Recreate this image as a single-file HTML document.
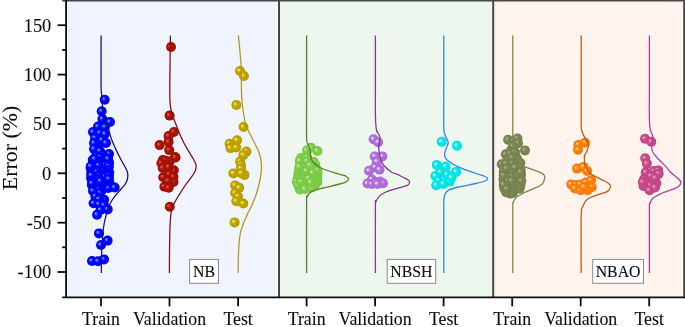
<!DOCTYPE html>
<html lang="en"><head><meta charset="utf-8"><title>Error (%) distribution: NB, NBSH, NBAO</title>
<style>html,body{margin:0;padding:0;background:#fff}svg{display:block}</style></head>
<body>
<svg width="685" height="327" viewBox="0 0 685 327">
<defs>
<radialGradient id="bg1" cx="0.5" cy="0.5" r="0.5" fx="0.33" fy="0.36"><stop offset="0" stop-color="#4c98ff"/><stop offset="0.12" stop-color="#4c98ff"/><stop offset="0.42" stop-color="#0606ff"/><stop offset="1" stop-color="#0000f2"/></radialGradient>
<radialGradient id="bg2" cx="0.5" cy="0.5" r="0.5" fx="0.33" fy="0.36"><stop offset="0" stop-color="#f0463a"/><stop offset="0.12" stop-color="#f0463a"/><stop offset="0.42" stop-color="#aa1407"/><stop offset="1" stop-color="#9a1105"/></radialGradient>
<radialGradient id="bg3" cx="0.5" cy="0.5" r="0.5" fx="0.33" fy="0.36"><stop offset="0" stop-color="#f0e258"/><stop offset="0.12" stop-color="#f0e258"/><stop offset="0.42" stop-color="#c2a800"/><stop offset="1" stop-color="#b49a00"/></radialGradient>
<radialGradient id="bg4" cx="0.5" cy="0.5" r="0.5" fx="0.33" fy="0.36"><stop offset="0" stop-color="#bce8a4"/><stop offset="0.12" stop-color="#bce8a4"/><stop offset="0.42" stop-color="#7ecd48"/><stop offset="1" stop-color="#78c844"/></radialGradient>
<radialGradient id="bg5" cx="0.5" cy="0.5" r="0.5" fx="0.33" fy="0.36"><stop offset="0" stop-color="#ecd0fa"/><stop offset="0.12" stop-color="#ecd0fa"/><stop offset="0.42" stop-color="#b272de"/><stop offset="1" stop-color="#aa68d6"/></radialGradient>
<radialGradient id="bg6" cx="0.5" cy="0.5" r="0.5" fx="0.33" fy="0.36"><stop offset="0" stop-color="#b0fafa"/><stop offset="0.12" stop-color="#b0fafa"/><stop offset="0.42" stop-color="#04e8ea"/><stop offset="1" stop-color="#00dde0"/></radialGradient>
<radialGradient id="bg7" cx="0.5" cy="0.5" r="0.5" fx="0.33" fy="0.36"><stop offset="0" stop-color="#a2aa82"/><stop offset="0.12" stop-color="#a2aa82"/><stop offset="0.42" stop-color="#7b8753"/><stop offset="1" stop-color="#75814d"/></radialGradient>
<radialGradient id="bg8" cx="0.5" cy="0.5" r="0.5" fx="0.33" fy="0.36"><stop offset="0" stop-color="#ffc688"/><stop offset="0.12" stop-color="#ffc688"/><stop offset="0.42" stop-color="#ff820a"/><stop offset="1" stop-color="#f87800"/></radialGradient>
<radialGradient id="bg9" cx="0.5" cy="0.5" r="0.5" fx="0.33" fy="0.36"><stop offset="0" stop-color="#e694bc"/><stop offset="0.12" stop-color="#e694bc"/><stop offset="0.42" stop-color="#c84e8a"/><stop offset="1" stop-color="#be4680"/></radialGradient>
</defs>
<rect width="685" height="327" fill="#fff"/>
<rect x="66.1" y="1" width="210.2" height="295.6" fill="#f0f4fe"/>
<rect x="279" y="1" width="212.8" height="295.6" fill="#edf7ed"/>
<rect x="493.2" y="1" width="188.9" height="295.6" fill="#fef4ed"/>
<g>
<circle cx="104.7" cy="99.8" r="5.0" fill="url(#bg1)"/>
<circle cx="101.7" cy="111.2" r="5.0" fill="url(#bg1)"/>
<circle cx="100.1" cy="143.5" r="5.0" fill="url(#bg1)"/>
<circle cx="102.4" cy="119.0" r="5.0" fill="url(#bg1)"/>
<circle cx="110.0" cy="122.0" r="5.0" fill="url(#bg1)"/>
<circle cx="98.0" cy="126.6" r="5.0" fill="url(#bg1)"/>
<circle cx="105.0" cy="127.0" r="5.0" fill="url(#bg1)"/>
<circle cx="93.0" cy="132.0" r="5.0" fill="url(#bg1)"/>
<circle cx="100.0" cy="133.0" r="5.0" fill="url(#bg1)"/>
<circle cx="105.0" cy="134.0" r="5.0" fill="url(#bg1)"/>
<circle cx="95.0" cy="138.0" r="5.0" fill="url(#bg1)"/>
<circle cx="102.0" cy="140.0" r="5.0" fill="url(#bg1)"/>
<circle cx="106.0" cy="143.0" r="5.0" fill="url(#bg1)"/>
<circle cx="94.0" cy="143.0" r="5.0" fill="url(#bg1)"/>
<circle cx="94.0" cy="149.0" r="5.0" fill="url(#bg1)"/>
<circle cx="100.0" cy="151.0" r="5.0" fill="url(#bg1)"/>
<circle cx="109.0" cy="154.0" r="5.0" fill="url(#bg1)"/>
<circle cx="103.0" cy="155.0" r="5.0" fill="url(#bg1)"/>
<circle cx="96.0" cy="156.0" r="5.0" fill="url(#bg1)"/>
<circle cx="103.7" cy="157.8" r="5.0" fill="url(#bg1)"/>
<circle cx="103.3" cy="171.5" r="5.0" fill="url(#bg1)"/>
<circle cx="96.6" cy="176.0" r="5.0" fill="url(#bg1)"/>
<circle cx="99.1" cy="167.7" r="5.0" fill="url(#bg1)"/>
<circle cx="97.5" cy="187.4" r="5.0" fill="url(#bg1)"/>
<circle cx="96.8" cy="163.6" r="5.0" fill="url(#bg1)"/>
<circle cx="104.5" cy="160.0" r="5.0" fill="url(#bg1)"/>
<circle cx="103.9" cy="186.1" r="5.0" fill="url(#bg1)"/>
<circle cx="101.6" cy="173.1" r="5.0" fill="url(#bg1)"/>
<circle cx="91.3" cy="172.2" r="5.0" fill="url(#bg1)"/>
<circle cx="92.7" cy="160.1" r="5.0" fill="url(#bg1)"/>
<circle cx="102.3" cy="189.6" r="5.0" fill="url(#bg1)"/>
<circle cx="96.3" cy="182.2" r="5.0" fill="url(#bg1)"/>
<circle cx="100.2" cy="157.3" r="5.0" fill="url(#bg1)"/>
<circle cx="91.1" cy="178.2" r="5.0" fill="url(#bg1)"/>
<circle cx="103.6" cy="168.4" r="5.0" fill="url(#bg1)"/>
<circle cx="99.4" cy="161.3" r="5.0" fill="url(#bg1)"/>
<circle cx="109.0" cy="162.2" r="5.0" fill="url(#bg1)"/>
<circle cx="91.9" cy="185.0" r="5.0" fill="url(#bg1)"/>
<circle cx="109.2" cy="172.6" r="5.0" fill="url(#bg1)"/>
<circle cx="95.3" cy="168.5" r="5.0" fill="url(#bg1)"/>
<circle cx="98.5" cy="165.1" r="5.0" fill="url(#bg1)"/>
<circle cx="109.4" cy="182.8" r="5.0" fill="url(#bg1)"/>
<circle cx="96.0" cy="171.1" r="5.0" fill="url(#bg1)"/>
<circle cx="99.4" cy="175.8" r="5.0" fill="url(#bg1)"/>
<circle cx="108.8" cy="167.1" r="5.0" fill="url(#bg1)"/>
<circle cx="94.7" cy="159.0" r="5.0" fill="url(#bg1)"/>
<circle cx="96.8" cy="178.7" r="5.0" fill="url(#bg1)"/>
<circle cx="108.8" cy="185.2" r="5.0" fill="url(#bg1)"/>
<circle cx="105.9" cy="164.6" r="5.0" fill="url(#bg1)"/>
<circle cx="98.2" cy="189.4" r="5.0" fill="url(#bg1)"/>
<circle cx="105.3" cy="179.5" r="5.0" fill="url(#bg1)"/>
<circle cx="105.7" cy="176.5" r="5.0" fill="url(#bg1)"/>
<circle cx="108.4" cy="188.0" r="5.0" fill="url(#bg1)"/>
<circle cx="108.8" cy="164.8" r="5.0" fill="url(#bg1)"/>
<circle cx="93.0" cy="190.9" r="5.0" fill="url(#bg1)"/>
<circle cx="103.3" cy="183.1" r="5.0" fill="url(#bg1)"/>
<circle cx="91.3" cy="175.3" r="5.0" fill="url(#bg1)"/>
<circle cx="99.2" cy="179.1" r="5.0" fill="url(#bg1)"/>
<circle cx="108.1" cy="158.9" r="5.0" fill="url(#bg1)"/>
<circle cx="109.0" cy="175.8" r="5.0" fill="url(#bg1)"/>
<circle cx="90.6" cy="167.7" r="5.0" fill="url(#bg1)"/>
<circle cx="100.5" cy="181.1" r="5.0" fill="url(#bg1)"/>
<circle cx="92.0" cy="183.3" r="5.0" fill="url(#bg1)"/>
<circle cx="90.8" cy="166.3" r="5.0" fill="url(#bg1)"/>
<circle cx="108.9" cy="178.8" r="5.0" fill="url(#bg1)"/>
<circle cx="114.7" cy="187.5" r="5.0" fill="url(#bg1)"/>
<circle cx="100.0" cy="193.0" r="5.0" fill="url(#bg1)"/>
<circle cx="95.4" cy="196.3" r="5.0" fill="url(#bg1)"/>
<circle cx="104.2" cy="199.8" r="5.0" fill="url(#bg1)"/>
<circle cx="99.0" cy="199.0" r="5.0" fill="url(#bg1)"/>
<circle cx="93.6" cy="203.3" r="5.0" fill="url(#bg1)"/>
<circle cx="98.9" cy="204.2" r="5.0" fill="url(#bg1)"/>
<circle cx="104.0" cy="205.5" r="5.0" fill="url(#bg1)"/>
<circle cx="107.7" cy="209.4" r="5.0" fill="url(#bg1)"/>
<circle cx="100.5" cy="210.0" r="5.0" fill="url(#bg1)"/>
<circle cx="97.1" cy="214.7" r="5.0" fill="url(#bg1)"/>
<circle cx="99.0" cy="233.4" r="5.0" fill="url(#bg1)"/>
<circle cx="107.6" cy="240.6" r="5.0" fill="url(#bg1)"/>
<circle cx="101.0" cy="245.0" r="5.0" fill="url(#bg1)"/>
<circle cx="92.0" cy="261.0" r="5.0" fill="url(#bg1)"/>
<circle cx="98.0" cy="261.2" r="5.0" fill="url(#bg1)"/>
<circle cx="104.0" cy="259.4" r="5.0" fill="url(#bg1)"/>
<path d="M101.1 35.4C101.1 42.5 101.1 68.9 101.1 78.0C101.1 87.1 101.0 86.4 101.2 90.0C101.4 93.6 101.8 95.7 102.1 99.4C102.4 103.1 102.3 108.4 103.0 112.0C103.7 115.6 105.0 117.6 106.0 120.8C107.0 124.0 108.1 128.1 109.1 131.3C110.1 134.5 110.5 136.7 111.8 140.0C113.1 143.3 115.2 148.0 116.8 151.4C118.4 154.8 120.0 157.7 121.5 160.5C123.0 163.3 124.6 166.1 125.6 168.0C126.6 169.9 127.0 170.8 127.4 172.0C127.8 173.2 127.8 173.9 127.8 175.3C127.8 176.7 127.6 178.8 127.1 180.3C126.6 181.8 125.9 183.2 125.0 184.5C124.1 185.8 123.3 186.4 121.8 188.2C120.2 190.0 117.6 192.7 115.7 195.2C113.8 197.7 111.8 200.5 110.4 203.0C109.0 205.5 108.3 207.8 107.5 210.0C106.7 212.2 106.4 214.1 105.8 216.5C105.2 218.9 104.5 221.6 104.0 224.5C103.5 227.4 103.1 230.6 102.8 234.0C102.5 237.4 102.2 241.2 102.0 245.0C101.8 248.8 101.6 252.3 101.5 257.0C101.4 261.7 101.4 270.3 101.4 273.0" fill="none" stroke="#241270" stroke-width="1.3" stroke-linejoin="round"/>
</g>
<g>
<circle cx="171.0" cy="47.0" r="5.0" fill="url(#bg2)"/>
<circle cx="169.6" cy="115.6" r="5.0" fill="url(#bg2)"/>
<circle cx="173.9" cy="132.0" r="5.0" fill="url(#bg2)"/>
<circle cx="168.6" cy="136.1" r="5.0" fill="url(#bg2)"/>
<circle cx="168.6" cy="141.9" r="5.0" fill="url(#bg2)"/>
<circle cx="159.6" cy="145.1" r="5.0" fill="url(#bg2)"/>
<circle cx="169.2" cy="150.1" r="5.0" fill="url(#bg2)"/>
<circle cx="175.0" cy="157.1" r="5.0" fill="url(#bg2)"/>
<circle cx="162.8" cy="160.0" r="5.0" fill="url(#bg2)"/>
<circle cx="169.8" cy="161.2" r="5.0" fill="url(#bg2)"/>
<circle cx="165.0" cy="160.4" r="5.0" fill="url(#bg2)"/>
<circle cx="175.5" cy="157.5" r="5.0" fill="url(#bg2)"/>
<circle cx="161.4" cy="163.3" r="5.0" fill="url(#bg2)"/>
<circle cx="162.7" cy="168.0" r="5.0" fill="url(#bg2)"/>
<circle cx="173.8" cy="170.3" r="5.0" fill="url(#bg2)"/>
<circle cx="168.5" cy="167.0" r="5.0" fill="url(#bg2)"/>
<circle cx="169.1" cy="174.4" r="5.0" fill="url(#bg2)"/>
<circle cx="163.2" cy="177.3" r="5.0" fill="url(#bg2)"/>
<circle cx="173.5" cy="177.0" r="5.0" fill="url(#bg2)"/>
<circle cx="173.5" cy="182.0" r="5.0" fill="url(#bg2)"/>
<circle cx="168.0" cy="181.0" r="5.0" fill="url(#bg2)"/>
<circle cx="164.4" cy="186.7" r="5.0" fill="url(#bg2)"/>
<circle cx="168.7" cy="187.8" r="5.0" fill="url(#bg2)"/>
<circle cx="169.8" cy="206.8" r="5.0" fill="url(#bg2)"/>
<path d="M170.4 35.4C170.3 39.5 170.2 50.1 170.1 60.0C170.0 69.9 169.7 86.7 169.8 95.0C170.0 103.3 169.9 105.0 171.0 110.0C172.1 115.0 174.5 120.5 176.2 125.0C177.8 129.4 179.4 133.4 180.9 136.7C182.4 140.0 183.6 142.5 185.0 145.0C186.4 147.5 187.8 149.7 189.1 151.9C190.4 154.2 191.9 156.6 193.0 158.5C194.1 160.4 195.1 162.1 195.6 163.5C196.1 164.9 196.2 165.7 196.1 167.0C196.0 168.3 195.8 169.8 195.0 171.5C194.2 173.2 193.2 174.7 191.4 177.2C189.6 179.7 186.2 183.9 184.4 186.5C182.6 189.1 181.7 190.8 180.3 193.0C178.9 195.2 177.3 197.7 176.0 200.0C174.7 202.3 173.4 204.1 172.5 206.8C171.6 209.5 171.1 212.6 170.7 216.0C170.3 219.4 170.2 222.2 170.0 227.0C169.8 231.8 169.7 237.3 169.6 245.0C169.5 252.7 169.4 268.3 169.4 273.0" fill="none" stroke="#7c1414" stroke-width="1.3" stroke-linejoin="round"/>
</g>
<g>
<circle cx="240.0" cy="71.0" r="5.0" fill="url(#bg3)"/>
<circle cx="244.0" cy="76.0" r="5.0" fill="url(#bg3)"/>
<circle cx="236.4" cy="105.0" r="5.0" fill="url(#bg3)"/>
<circle cx="243.5" cy="127.0" r="5.0" fill="url(#bg3)"/>
<circle cx="237.1" cy="140.3" r="5.0" fill="url(#bg3)"/>
<circle cx="229.6" cy="143.8" r="5.0" fill="url(#bg3)"/>
<circle cx="230.4" cy="148.1" r="5.0" fill="url(#bg3)"/>
<circle cx="236.3" cy="147.5" r="5.0" fill="url(#bg3)"/>
<circle cx="246.4" cy="151.6" r="5.0" fill="url(#bg3)"/>
<circle cx="243.3" cy="155.1" r="5.0" fill="url(#bg3)"/>
<circle cx="240.1" cy="161.5" r="5.0" fill="url(#bg3)"/>
<circle cx="241.0" cy="165.0" r="5.0" fill="url(#bg3)"/>
<circle cx="241.0" cy="168.5" r="5.0" fill="url(#bg3)"/>
<circle cx="233.4" cy="173.4" r="5.0" fill="url(#bg3)"/>
<circle cx="244.5" cy="174.9" r="5.0" fill="url(#bg3)"/>
<circle cx="241.3" cy="173.2" r="5.0" fill="url(#bg3)"/>
<circle cx="235.1" cy="185.4" r="5.0" fill="url(#bg3)"/>
<circle cx="239.2" cy="187.8" r="5.0" fill="url(#bg3)"/>
<circle cx="235.1" cy="193.0" r="5.0" fill="url(#bg3)"/>
<circle cx="238.0" cy="196.5" r="5.0" fill="url(#bg3)"/>
<circle cx="236.3" cy="201.2" r="5.0" fill="url(#bg3)"/>
<circle cx="243.3" cy="203.5" r="5.0" fill="url(#bg3)"/>
<circle cx="234.6" cy="222.4" r="5.0" fill="url(#bg3)"/>
<path d="M238.4 35.4C238.6 37.8 239.4 45.1 239.8 50.0C240.2 54.9 240.8 60.0 241.1 65.0C241.4 70.0 241.3 75.0 241.4 80.0C241.5 85.0 241.3 90.0 241.6 95.0C241.9 100.0 242.3 105.0 243.0 110.0C243.7 115.0 244.5 120.3 246.0 125.0C247.5 129.7 250.0 133.8 252.0 138.0C254.0 142.2 256.6 146.7 258.0 150.0C259.4 153.3 259.9 155.0 260.5 158.0C261.1 161.0 261.5 164.3 261.4 168.0C261.3 171.7 260.9 175.5 260.0 180.0C259.1 184.5 257.5 190.5 256.0 195.0C254.5 199.5 252.5 203.7 251.0 207.0C249.5 210.3 248.4 211.8 247.0 215.0C245.6 218.2 243.7 222.7 242.5 226.0C241.3 229.3 240.7 230.2 240.0 235.0C239.3 239.8 238.7 248.7 238.4 255.0C238.1 261.3 238.2 270.0 238.1 273.0" fill="none" stroke="#b49a14" stroke-width="1.3" stroke-linejoin="round"/>
</g>
<g>
<circle cx="307.1" cy="150.4" r="5.0" fill="url(#bg4)"/>
<circle cx="311.0" cy="147.7" r="5.0" fill="url(#bg4)"/>
<circle cx="317.4" cy="151.0" r="5.0" fill="url(#bg4)"/>
<circle cx="301.0" cy="158.0" r="5.0" fill="url(#bg4)"/>
<circle cx="307.1" cy="157.5" r="5.0" fill="url(#bg4)"/>
<circle cx="297.8" cy="179.1" r="5.0" fill="url(#bg4)"/>
<circle cx="309.1" cy="184.6" r="5.0" fill="url(#bg4)"/>
<circle cx="296.8" cy="181.8" r="5.0" fill="url(#bg4)"/>
<circle cx="317.5" cy="172.8" r="5.0" fill="url(#bg4)"/>
<circle cx="317.3" cy="182.1" r="5.0" fill="url(#bg4)"/>
<circle cx="299.9" cy="189.5" r="5.0" fill="url(#bg4)"/>
<circle cx="298.0" cy="185.0" r="5.0" fill="url(#bg4)"/>
<circle cx="304.1" cy="172.8" r="5.0" fill="url(#bg4)"/>
<circle cx="305.3" cy="184.6" r="5.0" fill="url(#bg4)"/>
<circle cx="315.2" cy="164.8" r="5.0" fill="url(#bg4)"/>
<circle cx="302.7" cy="177.4" r="5.0" fill="url(#bg4)"/>
<circle cx="308.1" cy="174.5" r="5.0" fill="url(#bg4)"/>
<circle cx="305.3" cy="165.2" r="5.0" fill="url(#bg4)"/>
<circle cx="308.1" cy="180.6" r="5.0" fill="url(#bg4)"/>
<circle cx="317.5" cy="177.7" r="5.0" fill="url(#bg4)"/>
<circle cx="315.1" cy="184.8" r="5.0" fill="url(#bg4)"/>
<circle cx="300.8" cy="181.4" r="5.0" fill="url(#bg4)"/>
<circle cx="313.7" cy="161.7" r="5.0" fill="url(#bg4)"/>
<circle cx="298.2" cy="175.1" r="5.0" fill="url(#bg4)"/>
<circle cx="306.7" cy="161.0" r="5.0" fill="url(#bg4)"/>
<circle cx="299.8" cy="160.8" r="5.0" fill="url(#bg4)"/>
<circle cx="304.9" cy="189.0" r="5.0" fill="url(#bg4)"/>
<circle cx="312.3" cy="169.1" r="5.0" fill="url(#bg4)"/>
<circle cx="310.1" cy="165.3" r="5.0" fill="url(#bg4)"/>
<circle cx="317.3" cy="170.4" r="5.0" fill="url(#bg4)"/>
<circle cx="311.3" cy="187.6" r="5.0" fill="url(#bg4)"/>
<circle cx="298.8" cy="171.3" r="5.0" fill="url(#bg4)"/>
<circle cx="313.7" cy="179.0" r="5.0" fill="url(#bg4)"/>
<circle cx="308.8" cy="178.2" r="5.0" fill="url(#bg4)"/>
<circle cx="310.8" cy="182.4" r="5.0" fill="url(#bg4)"/>
<circle cx="306.2" cy="170.9" r="5.0" fill="url(#bg4)"/>
<circle cx="312.6" cy="173.0" r="5.0" fill="url(#bg4)"/>
<circle cx="299.3" cy="166.9" r="5.0" fill="url(#bg4)"/>
<path d="M306.6 35.4C306.6 46.2 306.6 82.9 306.6 100.0C306.6 117.1 306.4 130.7 306.6 138.0C306.8 145.3 307.4 142.0 308.0 144.0C308.6 146.0 309.5 147.7 310.0 150.0C310.5 152.3 310.3 155.8 311.0 158.0C311.7 160.2 312.8 161.7 314.0 163.0C315.2 164.3 316.5 165.0 318.0 166.0C319.5 167.0 319.3 167.6 323.0 169.0C326.7 170.4 336.2 173.1 340.0 174.3C343.8 175.5 344.6 175.5 346.0 176.3C347.4 177.1 348.6 178.1 348.6 179.0C348.6 179.9 347.4 181.2 346.0 182.0C344.6 182.8 343.8 183.0 340.0 184.0C336.2 185.0 327.3 186.9 323.0 188.0C318.7 189.1 316.2 189.7 314.0 190.5C311.8 191.3 310.6 191.9 309.5 193.0C308.4 194.1 307.7 195.3 307.2 197.0C306.7 198.7 306.7 190.3 306.6 203.0C306.5 215.7 306.6 261.3 306.6 273.0" fill="none" stroke="#5e7e2c" stroke-width="1.3" stroke-linejoin="round"/>
</g>
<g>
<circle cx="373.6" cy="139.2" r="5.0" fill="url(#bg5)"/>
<circle cx="378.2" cy="142.3" r="5.0" fill="url(#bg5)"/>
<circle cx="374.8" cy="156.4" r="5.0" fill="url(#bg5)"/>
<circle cx="382.4" cy="156.4" r="5.0" fill="url(#bg5)"/>
<circle cx="377.0" cy="161.7" r="5.0" fill="url(#bg5)"/>
<circle cx="375.1" cy="167.3" r="5.0" fill="url(#bg5)"/>
<circle cx="379.5" cy="169.6" r="5.0" fill="url(#bg5)"/>
<circle cx="369.0" cy="170.8" r="5.0" fill="url(#bg5)"/>
<circle cx="371.9" cy="179.5" r="5.0" fill="url(#bg5)"/>
<circle cx="367.5" cy="183.5" r="5.0" fill="url(#bg5)"/>
<circle cx="372.0" cy="184.0" r="5.0" fill="url(#bg5)"/>
<circle cx="376.0" cy="182.5" r="5.0" fill="url(#bg5)"/>
<circle cx="380.0" cy="181.5" r="5.0" fill="url(#bg5)"/>
<circle cx="383.0" cy="183.2" r="5.0" fill="url(#bg5)"/>
<circle cx="377.5" cy="184.0" r="5.0" fill="url(#bg5)"/>
<path d="M375.4 35.4C375.4 44.5 375.4 76.2 375.4 90.0C375.4 103.8 375.3 111.3 375.5 118.0C375.7 124.7 375.9 127.2 376.5 130.0C377.1 132.8 378.4 133.2 379.0 134.5C379.6 135.8 379.9 136.6 380.0 138.0C380.1 139.4 379.5 141.4 379.3 143.0C379.1 144.6 378.7 146.0 378.7 147.5C378.7 149.0 379.0 150.4 379.2 152.0C379.4 153.6 379.6 155.5 380.0 157.0C380.4 158.5 380.9 159.6 381.5 161.0C382.1 162.4 381.9 163.3 383.6 165.2C385.3 167.1 389.4 170.7 391.7 172.2C394.0 173.7 395.7 173.5 397.6 174.4C399.6 175.3 401.6 176.6 403.4 177.5C405.2 178.4 407.3 179.2 408.3 180.0C409.3 180.8 409.6 181.2 409.5 182.0C409.4 182.8 409.4 184.1 408.0 185.0C406.6 185.9 404.7 186.1 401.0 187.3C397.3 188.5 389.6 190.4 385.9 192.0C382.2 193.6 380.6 194.9 378.9 196.6C377.2 198.2 376.5 200.2 375.9 201.9C375.3 203.6 375.5 195.2 375.4 207.0C375.3 218.8 375.4 262.0 375.4 273.0" fill="none" stroke="#853a8c" stroke-width="1.3" stroke-linejoin="round"/>
</g>
<g>
<circle cx="441.8" cy="141.8" r="5.0" fill="url(#bg6)"/>
<circle cx="457.0" cy="145.8" r="5.0" fill="url(#bg6)"/>
<circle cx="436.8" cy="164.9" r="5.0" fill="url(#bg6)"/>
<circle cx="445.6" cy="166.6" r="5.0" fill="url(#bg6)"/>
<circle cx="456.1" cy="171.9" r="5.0" fill="url(#bg6)"/>
<circle cx="440.3" cy="172.2" r="5.0" fill="url(#bg6)"/>
<circle cx="447.1" cy="174.6" r="5.0" fill="url(#bg6)"/>
<circle cx="435.4" cy="176.0" r="5.0" fill="url(#bg6)"/>
<circle cx="438.6" cy="180.6" r="5.0" fill="url(#bg6)"/>
<circle cx="449.7" cy="181.6" r="5.0" fill="url(#bg6)"/>
<circle cx="436.2" cy="185.3" r="5.0" fill="url(#bg6)"/>
<circle cx="443.4" cy="184.0" r="5.0" fill="url(#bg6)"/>
<circle cx="451.5" cy="177.5" r="5.0" fill="url(#bg6)"/>
<path d="M443.8 35.4C443.8 44.5 443.8 74.7 443.8 90.0C443.8 105.3 443.6 119.5 443.8 127.0C444.0 134.5 444.3 132.4 445.0 135.0C445.7 137.6 448.0 140.1 448.2 142.3C448.4 144.6 446.8 146.6 446.2 148.5C445.6 150.4 444.8 152.0 444.6 153.5C444.5 155.0 444.7 156.3 445.3 157.5C445.9 158.7 445.8 159.1 448.0 160.7C450.2 162.3 453.9 165.0 458.6 167.1C463.3 169.2 471.6 171.9 476.0 173.5C480.4 175.1 483.0 175.6 485.0 176.5C487.0 177.4 487.8 178.1 487.8 178.8C487.8 179.6 487.0 180.2 485.0 181.0C483.0 181.8 480.4 182.5 476.0 183.5C471.6 184.5 463.1 185.9 458.6 187.0C454.1 188.1 451.4 188.7 449.2 189.9C446.9 191.1 446.0 192.3 445.1 194.0C444.2 195.7 444.1 197.7 443.9 200.0C443.7 202.3 443.8 195.8 443.8 208.0C443.8 220.2 443.8 262.2 443.8 273.0" fill="none" stroke="#3686d8" stroke-width="1.3" stroke-linejoin="round"/>
</g>
<g>
<circle cx="508.1" cy="139.7" r="5.0" fill="url(#bg7)"/>
<circle cx="514.0" cy="140.9" r="5.0" fill="url(#bg7)"/>
<circle cx="517.5" cy="138.5" r="5.0" fill="url(#bg7)"/>
<circle cx="518.0" cy="143.2" r="5.0" fill="url(#bg7)"/>
<circle cx="525.0" cy="150.4" r="5.0" fill="url(#bg7)"/>
<circle cx="511.0" cy="150.2" r="5.0" fill="url(#bg7)"/>
<circle cx="505.8" cy="154.3" r="5.0" fill="url(#bg7)"/>
<circle cx="510.4" cy="153.7" r="5.0" fill="url(#bg7)"/>
<circle cx="507.0" cy="160.7" r="5.0" fill="url(#bg7)"/>
<circle cx="501.7" cy="164.2" r="5.0" fill="url(#bg7)"/>
<circle cx="516.9" cy="158.4" r="5.0" fill="url(#bg7)"/>
<circle cx="520.4" cy="163.0" r="5.0" fill="url(#bg7)"/>
<circle cx="513.0" cy="146.0" r="5.0" fill="url(#bg7)"/>
<circle cx="515.0" cy="152.0" r="5.0" fill="url(#bg7)"/>
<circle cx="512.0" cy="157.5" r="5.0" fill="url(#bg7)"/>
<circle cx="516.0" cy="164.0" r="5.0" fill="url(#bg7)"/>
<circle cx="517.9" cy="183.4" r="5.0" fill="url(#bg7)"/>
<circle cx="517.0" cy="187.9" r="5.0" fill="url(#bg7)"/>
<circle cx="512.9" cy="183.9" r="5.0" fill="url(#bg7)"/>
<circle cx="521.0" cy="175.2" r="5.0" fill="url(#bg7)"/>
<circle cx="508.5" cy="173.8" r="5.0" fill="url(#bg7)"/>
<circle cx="504.2" cy="188.5" r="5.0" fill="url(#bg7)"/>
<circle cx="507.6" cy="177.4" r="5.0" fill="url(#bg7)"/>
<circle cx="517.9" cy="171.1" r="5.0" fill="url(#bg7)"/>
<circle cx="504.0" cy="168.1" r="5.0" fill="url(#bg7)"/>
<circle cx="519.7" cy="188.8" r="5.0" fill="url(#bg7)"/>
<circle cx="503.7" cy="171.7" r="5.0" fill="url(#bg7)"/>
<circle cx="512.8" cy="188.7" r="5.0" fill="url(#bg7)"/>
<circle cx="503.4" cy="179.6" r="5.0" fill="url(#bg7)"/>
<circle cx="516.7" cy="179.9" r="5.0" fill="url(#bg7)"/>
<circle cx="508.1" cy="185.6" r="5.0" fill="url(#bg7)"/>
<circle cx="510.8" cy="168.3" r="5.0" fill="url(#bg7)"/>
<circle cx="512.5" cy="172.2" r="5.0" fill="url(#bg7)"/>
<circle cx="520.4" cy="169.5" r="5.0" fill="url(#bg7)"/>
<circle cx="512.1" cy="163.2" r="5.0" fill="url(#bg7)"/>
<circle cx="517.2" cy="176.1" r="5.0" fill="url(#bg7)"/>
<circle cx="513.0" cy="192.8" r="5.0" fill="url(#bg7)"/>
<circle cx="510.6" cy="193.6" r="5.0" fill="url(#bg7)"/>
<circle cx="515.0" cy="167.3" r="5.0" fill="url(#bg7)"/>
<circle cx="520.4" cy="185.3" r="5.0" fill="url(#bg7)"/>
<circle cx="511.5" cy="176.7" r="5.0" fill="url(#bg7)"/>
<circle cx="505.9" cy="163.5" r="5.0" fill="url(#bg7)"/>
<circle cx="520.8" cy="171.9" r="5.0" fill="url(#bg7)"/>
<circle cx="521.4" cy="181.1" r="5.0" fill="url(#bg7)"/>
<circle cx="506.1" cy="192.2" r="5.0" fill="url(#bg7)"/>
<circle cx="503.7" cy="175.4" r="5.0" fill="url(#bg7)"/>
<circle cx="503.6" cy="184.7" r="5.0" fill="url(#bg7)"/>
<circle cx="508.7" cy="180.3" r="5.0" fill="url(#bg7)"/>
<circle cx="506.8" cy="189.0" r="5.0" fill="url(#bg7)"/>
<circle cx="511.9" cy="180.8" r="5.0" fill="url(#bg7)"/>
<circle cx="506.7" cy="168.5" r="5.0" fill="url(#bg7)"/>
<path d="M512.8 35.4C512.8 44.5 512.8 73.2 512.8 90.0C512.8 106.8 512.7 126.0 512.8 136.0C512.9 146.0 512.9 146.0 513.4 150.0C513.9 154.0 514.9 157.6 516.0 160.0C517.1 162.4 518.5 163.0 520.0 164.2C521.5 165.3 523.0 166.0 525.0 166.9C527.0 167.8 529.7 168.6 532.0 169.4C534.3 170.2 537.2 171.2 539.0 171.9C540.8 172.6 541.7 173.0 542.6 173.6C543.5 174.2 544.0 174.9 544.4 175.6C544.8 176.3 544.8 177.0 544.7 178.0C544.6 179.0 544.1 180.5 543.7 181.5C543.3 182.5 543.1 183.2 542.3 184.0C541.5 184.8 540.7 185.3 539.0 186.2C537.3 187.1 534.3 188.3 532.0 189.3C529.7 190.3 527.4 191.2 525.0 192.4C522.6 193.6 519.3 195.2 517.5 196.5C515.7 197.8 515.0 198.8 514.2 200.0C513.5 201.2 513.2 202.5 513.0 204.0C512.8 205.5 512.8 197.5 512.8 209.0C512.8 220.5 512.8 262.3 512.8 273.0" fill="none" stroke="#7a8550" stroke-width="1.3" stroke-linejoin="round"/>
</g>
<g>
<circle cx="585.0" cy="142.7" r="5.0" fill="url(#bg8)"/>
<circle cx="578.4" cy="144.9" r="5.0" fill="url(#bg8)"/>
<circle cx="578.0" cy="149.7" r="5.0" fill="url(#bg8)"/>
<circle cx="577.1" cy="168.6" r="5.0" fill="url(#bg8)"/>
<circle cx="583.5" cy="166.9" r="5.0" fill="url(#bg8)"/>
<circle cx="587.2" cy="171.0" r="5.0" fill="url(#bg8)"/>
<circle cx="571.2" cy="184.4" r="5.0" fill="url(#bg8)"/>
<circle cx="576.0" cy="185.0" r="5.0" fill="url(#bg8)"/>
<circle cx="580.6" cy="184.4" r="5.0" fill="url(#bg8)"/>
<circle cx="585.8" cy="182.6" r="5.0" fill="url(#bg8)"/>
<circle cx="591.1" cy="180.3" r="5.0" fill="url(#bg8)"/>
<circle cx="591.7" cy="187.3" r="5.0" fill="url(#bg8)"/>
<circle cx="587.6" cy="190.2" r="5.0" fill="url(#bg8)"/>
<circle cx="574.9" cy="188.4" r="5.0" fill="url(#bg8)"/>
<circle cx="580.7" cy="190.1" r="5.0" fill="url(#bg8)"/>
<circle cx="584.0" cy="187.0" r="5.0" fill="url(#bg8)"/>
<path d="M581.2 35.4C581.2 44.5 581.2 75.6 581.2 90.0C581.2 104.4 581.1 115.3 581.2 122.0C581.3 128.7 580.9 127.2 581.6 130.0C582.3 132.8 584.2 136.5 585.4 138.8C586.5 141.1 588.2 142.1 588.5 144.0C588.8 145.9 587.9 148.3 587.2 150.2C586.6 152.1 585.1 154.0 584.6 155.5C584.1 157.0 584.3 157.4 584.4 159.0C584.5 160.6 584.2 162.6 585.1 165.0C586.0 167.4 587.2 170.8 590.0 173.2C592.8 175.6 598.7 178.0 601.7 179.6C604.7 181.2 606.5 181.9 608.0 183.0C609.5 184.1 610.4 184.9 610.6 186.0C610.8 187.1 610.0 188.5 609.3 189.5C608.6 190.5 608.6 190.9 606.4 191.9C604.2 192.9 599.1 194.1 595.9 195.4C592.7 196.7 589.2 197.6 587.0 199.5C584.8 201.4 583.6 204.2 582.6 207.0C581.6 209.8 581.4 205.0 581.2 216.0C581.0 227.0 581.2 263.5 581.2 273.0" fill="none" stroke="#bf5a1e" stroke-width="1.3" stroke-linejoin="round"/>
</g>
<g>
<circle cx="645.0" cy="138.8" r="5.0" fill="url(#bg9)"/>
<circle cx="651.3" cy="141.8" r="5.0" fill="url(#bg9)"/>
<circle cx="645.2" cy="158.3" r="5.0" fill="url(#bg9)"/>
<circle cx="646.9" cy="163.6" r="5.0" fill="url(#bg9)"/>
<circle cx="653.9" cy="171.1" r="5.0" fill="url(#bg9)"/>
<circle cx="645.8" cy="172.3" r="5.0" fill="url(#bg9)"/>
<circle cx="658.2" cy="170.4" r="5.0" fill="url(#bg9)"/>
<circle cx="658.7" cy="173.8" r="5.0" fill="url(#bg9)"/>
<circle cx="651.0" cy="176.0" r="5.0" fill="url(#bg9)"/>
<circle cx="644.0" cy="179.3" r="5.0" fill="url(#bg9)"/>
<circle cx="646.9" cy="183.4" r="5.0" fill="url(#bg9)"/>
<circle cx="650.1" cy="185.7" r="5.0" fill="url(#bg9)"/>
<circle cx="656.3" cy="183.4" r="5.0" fill="url(#bg9)"/>
<circle cx="643.5" cy="186.0" r="5.0" fill="url(#bg9)"/>
<circle cx="649.5" cy="190.3" r="5.0" fill="url(#bg9)"/>
<circle cx="655.0" cy="187.5" r="5.0" fill="url(#bg9)"/>
<circle cx="642.8" cy="182.0" r="5.0" fill="url(#bg9)"/>
<circle cx="655.3" cy="178.0" r="5.0" fill="url(#bg9)"/>
<path d="M649.4 35.4C649.4 44.5 649.4 75.9 649.4 90.0C649.4 104.1 649.2 113.3 649.4 120.0C649.6 126.7 649.9 127.5 650.4 130.0C650.9 132.5 652.0 133.5 652.4 135.0C652.8 136.5 653.0 137.6 653.0 139.0C653.0 140.4 652.5 142.1 652.3 143.5C652.1 144.9 651.8 146.2 651.8 147.5C651.8 148.8 651.7 149.9 652.5 151.5C653.3 153.1 654.2 154.5 656.4 157.0C658.6 159.5 663.4 163.9 665.7 166.4C668.0 168.9 668.5 170.1 670.4 172.0C672.3 173.9 675.7 176.5 677.4 178.0C679.1 179.5 679.8 180.2 680.4 181.0C681.0 181.8 681.0 182.3 680.9 183.1C680.8 183.8 680.5 184.6 679.5 185.5C678.5 186.4 678.2 187.1 675.1 188.4C672.0 189.8 664.8 191.9 661.1 193.6C657.4 195.2 654.8 196.7 652.9 198.3C651.0 200.0 650.6 201.6 650.0 203.5C649.4 205.4 649.5 198.4 649.4 210.0C649.3 221.6 649.4 262.5 649.4 273.0" fill="none" stroke="#b83aa8" stroke-width="1.3" stroke-linejoin="round"/>
</g>
<g stroke="#464646" stroke-width="2" fill="none">
<line x1="279" y1="0" x2="279" y2="297.3"/>
<line x1="493.2" y1="0" x2="493.2" y2="297.3"/>
<path d="M62.2 0.6H685M684.2 0V298.2"/>
</g>
<g stroke="#0c0c0c" stroke-width="1.8" fill="none" stroke-linecap="butt">
<path d="M62.2 297.4H685M66.1 0V298.3"/>
<line x1="57.6" x2="66.1" y1="25.2" y2="25.2"/>
<line x1="57.6" x2="66.1" y1="74.6" y2="74.6"/>
<line x1="57.6" x2="66.1" y1="124.0" y2="124.0"/>
<line x1="57.6" x2="66.1" y1="173.3" y2="173.3"/>
<line x1="57.6" x2="66.1" y1="222.7" y2="222.7"/>
<line x1="57.6" x2="66.1" y1="272.0" y2="272.0"/>
<line x1="62.2" x2="66.1" y1="49.9" y2="49.9"/>
<line x1="62.2" x2="66.1" y1="99.3" y2="99.3"/>
<line x1="62.2" x2="66.1" y1="148.6" y2="148.6"/>
<line x1="62.2" x2="66.1" y1="198.0" y2="198.0"/>
<line x1="62.2" x2="66.1" y1="247.3" y2="247.3"/>
<line x1="101.0" x2="101.0" y1="297.4" y2="306.3"/>
<line x1="169.5" x2="169.5" y1="297.4" y2="306.3"/>
<line x1="238.1" x2="238.1" y1="297.4" y2="306.3"/>
<line x1="306.6" x2="306.6" y1="297.4" y2="306.3"/>
<line x1="375.1" x2="375.1" y1="297.4" y2="306.3"/>
<line x1="443.6" x2="443.6" y1="297.4" y2="306.3"/>
<line x1="512.2" x2="512.2" y1="297.4" y2="306.3"/>
<line x1="580.7" x2="580.7" y1="297.4" y2="306.3"/>
<line x1="649.2" x2="649.2" y1="297.4" y2="306.3"/>
</g>
<g font-family="'Liberation Serif', 'Times New Roman', serif" fill="#0a0a0a" stroke="#0a0a0a" stroke-width="0.08">
<text x="51.3" y="31.6" font-size="18.4" text-anchor="end">150</text>
<text x="51.3" y="81.0" font-size="18.4" text-anchor="end">100</text>
<text x="51.3" y="130.4" font-size="18.4" text-anchor="end">50</text>
<text x="51.3" y="179.7" font-size="18.4" text-anchor="end">0</text>
<text x="51.3" y="229.1" font-size="18.4" text-anchor="end">-50</text>
<text x="51.3" y="278.4" font-size="18.4" text-anchor="end">-100</text>
<text x="101.0" y="325" font-size="17.8" text-anchor="middle">Train</text>
<text x="169.5" y="325" font-size="17.8" text-anchor="middle">Validation</text>
<text x="238.1" y="325" font-size="17.8" text-anchor="middle">Test</text>
<text x="306.6" y="325" font-size="17.8" text-anchor="middle">Train</text>
<text x="375.1" y="325" font-size="17.8" text-anchor="middle">Validation</text>
<text x="443.6" y="325" font-size="17.8" text-anchor="middle">Test</text>
<text x="512.2" y="325" font-size="17.8" text-anchor="middle">Train</text>
<text x="580.7" y="325" font-size="17.8" text-anchor="middle">Validation</text>
<text x="649.2" y="325" font-size="17.8" text-anchor="middle">Test</text>
<text transform="translate(17.2 148.0) rotate(-90)" font-size="21.9" text-anchor="middle">Error (%)</text>
<rect x="189.6" y="259.4" width="28.9" height="23.9" fill="#fff" stroke="#8a8a8a" stroke-width="1"/>
<text x="204.1" y="277" font-size="15.8" text-anchor="middle">NB</text>
<rect x="387.2" y="259.4" width="48.5" height="23.9" fill="#fff" stroke="#8a8a8a" stroke-width="1"/>
<text x="411.4" y="277" font-size="15.8" text-anchor="middle">NBSH</text>
<rect x="592.7" y="259.4" width="50.8" height="23.9" fill="#fff" stroke="#8a8a8a" stroke-width="1"/>
<text x="618.1" y="277" font-size="15.8" text-anchor="middle">NBAO</text>
</g>
</svg>
</body></html>
